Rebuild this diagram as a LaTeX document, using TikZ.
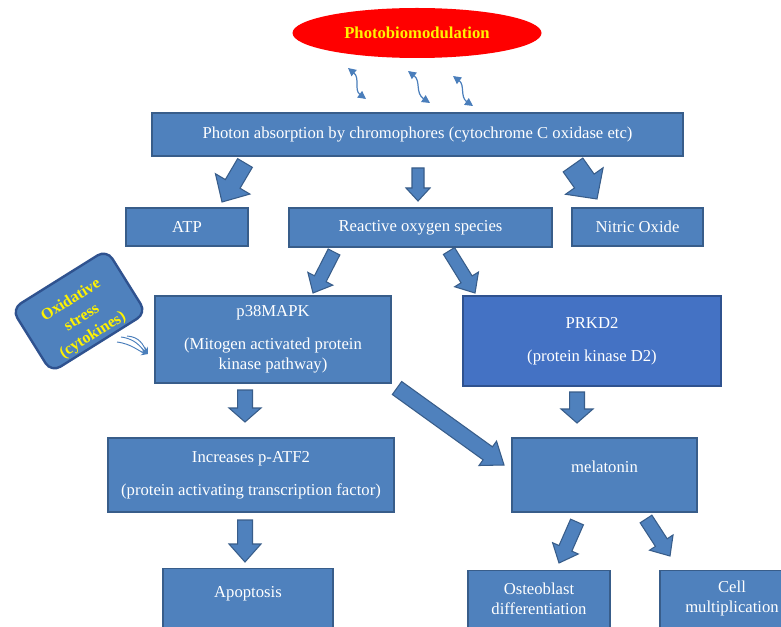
\documentclass[tikz,border=0pt]{standalone}
\usepackage{fontspec}
\setmainfont{Liberation Serif}
\usetikzlibrary{arrows.meta,calc,shapes.geometric}

\definecolor{boxblue}{HTML}{4F81BD}
\definecolor{boxline}{HTML}{385D8A}
\definecolor{kinblue}{HTML}{4472C4}
\definecolor{kinline}{HTML}{2F528F}
\definecolor{wave}{HTML}{4A7EBB}

\tikzset{
  box/.style={draw=boxline, fill=boxblue, line width=1pt, text=white, align=center, inner sep=0pt},
  boxtext/.style={text=white, align=center, inner sep=0pt},
  fatarrow/.style={draw=boxline, fill=boxblue, line width=0.8pt, line join=miter},
  wavy/.style={draw=wave, line width=0.9pt, {Triangle[width=6pt,length=6pt]}-{Triangle[width=6pt,length=6pt]}},
  stressline/.style={draw=wave, line width=0.7pt, -{Stealth[width=5pt,length=5pt]}},
}

% block arrow: #1 half shaft, #2 half head, #3 head length, #4 from, #5 to
\newcommand{\blockarrow}[5]{%
  \coordinate (ba-h) at ($(#5)!#3!(#4)$);
  \draw[fatarrow] ($(#4)!#1!90:(#5)$) -- ($(ba-h)!#1!90:(#5)$) -- ($(ba-h)!#2!90:(#5)$) -- (#5)
    -- ($(ba-h)!#2!-90:(#5)$) -- ($(ba-h)!#1!-90:(#5)$) -- ($(#4)!#1!-90:(#5)$) -- cycle;}

\begin{document}
\begin{tikzpicture}[x=0.75pt, y=-0.75pt, font=\fontsize{12.5}{15}\selectfont]
	\clip (0,0) rectangle (781,627);
	\fill[white] (0,0) rectangle (781,627);
	% Draw nodes
	\node[ellipse, fill=red, text=yellow, font=\bfseries\fontsize{12.5}{15}\selectfont, minimum width=186.75pt, minimum height=37.5pt, inner sep=0pt] (pbm) at (417,33) {Photobiomodulation};
	\node[box, minimum width=398.25pt, minimum height=32.25pt] (photon) at (417.5,134.5) {Photon absorption by chromophores (cytochrome C oxidase etc)};
	\node[box, minimum width=91.5pt, minimum height=28.5pt] (atp) at (187,227) {ATP};
	\node[box, minimum width=197.25pt, minimum height=29.25pt] (ros) at (420.5,227.5) {Reactive oxygen species};
	\node[box, minimum width=98.25pt, minimum height=28.5pt] (no) at (637.5,227) {Nitric Oxide};
	\node[box, minimum width=177pt, minimum height=65.25pt] (p38) at (273,339.5) {p38MAPK\\[9.75pt](Mitogen activated protein\\kinase pathway)};
	\node[box, draw=kinline, fill=kinblue, minimum width=193.5pt, minimum height=67.5pt] (prkd) at (592,341) {PRKD2\\[9.75pt](protein kinase D2)};
	\node[box, minimum width=214.5pt, minimum height=55.5pt] (atf) at (251,475) {Increases p-ATF2\\[9.75pt](protein activating transcription factor)};
	\node[box, minimum width=138.75pt, minimum height=55.5pt, text depth=12pt] (mel) at (604.5,475) {melatonin};
	% Tilted stress box
	\node[box, draw=kinline, line width=1.8pt, rounded corners=8pt, rotate=32, minimum width=84pt, minimum height=56pt] (stress) at (79,311) {};
	\node[boxtext, rotate=32, text=yellow, font=\bfseries\fontsize{12}{15.5}\selectfont] (stresstext) at (82,318) {Oxidative\\stress\\(cytokines)};
	% Bottom boxes run off the page
	\node[box, anchor=north, minimum width=127.5pt, minimum height=60pt] (apo) at (248,568) {};
	\node[boxtext] (apotext) at (248,594) {Apoptosis};
	\node[box, anchor=north, minimum width=106.5pt, minimum height=60pt] (osteo) at (539,570) {};
	\node[boxtext] (osteotext) at (539,598.5) {Osteoblast\\differentiation};
	\node[box, anchor=north, minimum width=108pt, minimum height=60pt] (cell) at (732,570) {};
	\node[boxtext] (celltext) at (732,598.5) {Cell\\multiplication};
	% Arrow ends
	\coordinate (a1s) at (245,163); \coordinate (a1e) at (222,202);
	\coordinate (a2s) at (418,168); \coordinate (a2e) at (418,201);
	\coordinate (a3s) at (573,165); \coordinate (a3e) at (597,199);
	\coordinate (a4s) at (334,252); \coordinate (a4e) at (313,293);
	\coordinate (a5s) at (449,251); \coordinate (a5e) at (475,293);
	\coordinate (a6s) at (397,388); \coordinate (a6e) at (504,465);
	\coordinate (a7s) at (245,390); \coordinate (a7e) at (245,422);
	\coordinate (a8s) at (577,392); \coordinate (a8e) at (577,423);
	\coordinate (a9s) at (245,520); \coordinate (a9e) at (245,562);
	\coordinate (a10s) at (577,522); \coordinate (a10e) at (559,563);
	\coordinate (a11s) at (646,519); \coordinate (a11e) at (670,556);
	% Draw block arrows
	\blockarrow{6.4pt}{15pt}{15.75pt}{a1s}{a1e}
	\blockarrow{4.5pt}{9pt}{9.75pt}{a2s}{a2e}
	\blockarrow{9pt}{17.25pt}{16.5pt}{a3s}{a3e}
	\blockarrow{4.9pt}{10.5pt}{12pt}{a4s}{a4e}
	\blockarrow{4.9pt}{10.5pt}{12pt}{a5s}{a5e}
	\blockarrow{6pt}{11.25pt}{15pt}{a6s}{a6e}
	\blockarrow{5.6pt}{12pt}{10.5pt}{a7s}{a7e}
	\blockarrow{5.6pt}{12pt}{10.5pt}{a8s}{a8e}
	\blockarrow{5.6pt}{12pt}{13.5pt}{a9s}{a9e}
	\blockarrow{5.25pt}{10.5pt}{12pt}{a10s}{a10e}
	\blockarrow{5.25pt}{10.5pt}{12pt}{a11s}{a11e}
	% Draw light waves
	\coordinate (w1s) at (348,68); \coordinate (w1e) at (366,99);
	\coordinate (w2s) at (408,71); \coordinate (w2e) at (430,103);
	\coordinate (w3s) at (453,76); \coordinate (w3e) at (473,106);
	\draw[wavy] (w1s) .. controls (360,78) and (354,90) .. (w1e);
	\draw[wavy] (w2s) .. controls (421,81) and (415,93) .. (w2e);
	\draw[wavy] (w3s) .. controls (465,85) and (460,97) .. (w3e);
	% Draw stress signals
	\coordinate (s1) at (117,342); \coordinate (s2) at (121,337); \coordinate (s3) at (127,336);
	\coordinate (se) at (148,354);
	\draw[stressline] (s1) .. controls (132,344) and (138,351) .. (se);
	\draw[stressline] (s2) .. controls (136,339) and (140,347) .. (se);
	\draw[stressline] (s3) .. controls (140,337) and (143,345) .. (se);
\end{tikzpicture}
\end{document}
